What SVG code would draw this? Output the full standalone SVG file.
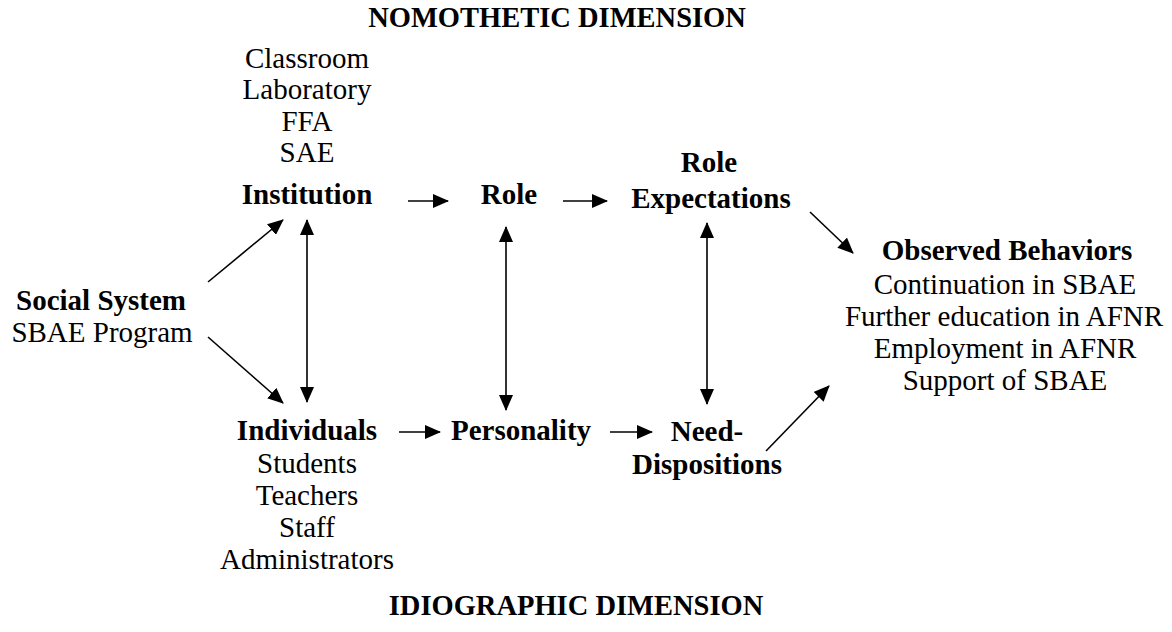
<svg xmlns="http://www.w3.org/2000/svg" width="1172" height="632" viewBox="0 0 1172 632">
<style>
text{font-family:"Liberation Serif","Times New Roman",serif;font-size:29px;fill:#000;text-anchor:middle}
.b{font-weight:bold}
.t{font-weight:bold;font-size:28.5px}
.c line{stroke:#000;stroke-width:1.6;fill:none}
.a{marker-end:url(#ah)}
.d{marker-start:url(#ah);marker-end:url(#ah)}
</style>
<defs>
<marker id="ah" markerUnits="userSpaceOnUse" markerWidth="16" markerHeight="14" viewBox="0 0 16 14" refX="15" refY="7" orient="auto-start-reverse">
<path d="M0,0 L16,7 L0,14 z" fill="#000"/>
</marker>
</defs>
<rect width="1172" height="632" fill="#fff"/>
<g id="nomothetic"><text class="t" x="557" y="27">NOMOTHETIC DIMENSION</text></g>
<g id="institution">
<text x="307" y="68">Classroom</text>
<text x="307" y="99">Laboratory</text>
<text x="307" y="131">FFA</text>
<text x="307" y="162">SAE</text>
<text class="b" x="307" y="204">Institution</text>
</g>
<g id="role"><text class="b" x="509" y="204">Role</text></g>
<g id="role-expectations">
<text class="b" x="709" y="172">Role</text>
<text class="b" x="711" y="208">Expectations</text>
</g>
<g id="social-system">
<text class="b" x="101" y="310">Social System</text>
<text x="102" y="342">SBAE Program</text>
</g>
<g id="individuals">
<text class="b" x="307" y="440">Individuals</text>
<text x="307" y="473">Students</text>
<text x="307" y="505">Teachers</text>
<text x="307" y="537">Staff</text>
<text x="307" y="569">Administrators</text>
</g>
<g id="personality"><text class="b" x="521" y="440">Personality</text></g>
<g id="need-dispositions">
<text class="b" x="707" y="441">Need-</text>
<text class="b" x="707" y="474">Dispositions</text>
</g>
<g id="observed-behaviors">
<text class="b" x="1007" y="260">Observed Behaviors</text>
<text x="1005" y="294">Continuation in SBAE</text>
<text x="1004" y="326">Further education in AFNR</text>
<text x="1005" y="358">Employment in AFNR</text>
<text x="1005" y="390">Support of SBAE</text>
</g>
<g id="idiographic"><text class="t" x="576" y="615">IDIOGRAPHIC DIMENSION</text></g>
<g class="c" id="connectors">
<line class="a" x1="408" y1="201" x2="448" y2="201"/>
<line class="a" x1="563" y1="201" x2="607" y2="201"/>
<line class="a" x1="208" y1="282" x2="283" y2="220"/>
<line class="a" x1="208" y1="337" x2="283" y2="403"/>
<line class="d" x1="307" y1="220" x2="307" y2="402"/>
<line class="d" x1="506" y1="227" x2="506" y2="410"/>
<line class="d" x1="707" y1="223" x2="707" y2="404"/>
<line class="a" x1="810" y1="212" x2="853" y2="253"/>
<line class="a" x1="399" y1="432" x2="440" y2="432"/>
<line class="a" x1="610" y1="432" x2="652" y2="432"/>
<line class="a" x1="766" y1="451" x2="829" y2="386"/>
</g>
</svg>
